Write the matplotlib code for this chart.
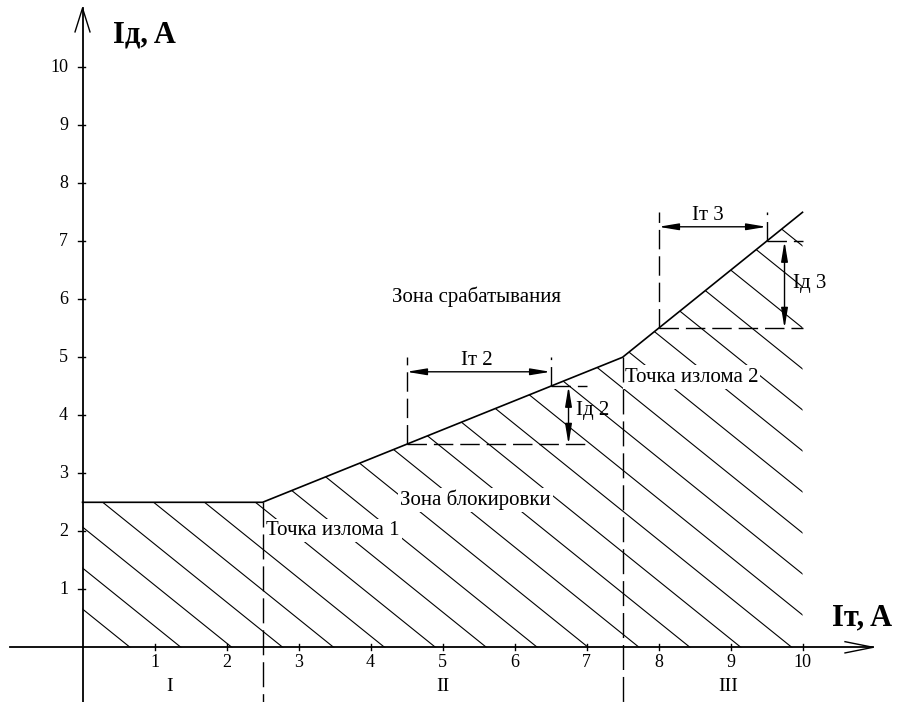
import numpy as np
import matplotlib.pyplot as plt
from matplotlib.patches import Polygon

plt.rcParams['font.family'] = ['Liberation Serif', 'DejaVu Serif']

# Characteristic of the differential protection (break points)
char_x = [0, 2.5, 7.5, 10]
char_y = [2.5, 2.5, 5.0, 7.5]

# Ticks
x_ticks = [1, 2, 3, 4, 5, 6, 7, 8, 9, 10]
y_ticks = [1, 2, 3, 4, 5, 6, 7, 8, 9, 10]

# Region boundaries and names
region_bounds = [2.5, 7.5]
region_names = ['I', 'II', 'III']
region_pos = [1.21, 5.0, 8.97]

# Dimension construction lines (x0, y0, x1, y1)
dim_dashes = [
    (4.5, 3.5, 4.5, 5.0), (6.5, 4.5, 6.5, 5.0),
    (4.5, 3.5, 7.0, 3.5), (6.5, 4.5, 7.0, 4.5),
    (8.0, 5.5, 8.0, 7.5), (9.5, 7.0, 9.5, 7.5),
    (9.5, 7.0, 10.0, 7.0), (8.0, 5.5, 10.0, 5.5),
]
# Dimension arrows (x0, y0, x1, y1)
dim_arrows = [
    (4.5, 4.75, 6.5, 4.75), (6.75, 4.5, 6.75, 3.5),
    (8.0, 7.25, 9.5, 7.25), (9.75, 7.0, 9.75, 5.5),
]
dim_labels = ['Iт 2', 'Iд 2', 'Iт 3', 'Iд 3']
dim_label_pos = [(5.47, 4.94), (7.09, 4.09), (8.69, 7.45), (10.1, 6.28)]

fig = plt.figure(figsize=(8.99, 7.02), dpi=100)
ax = fig.add_axes([0, 0, 1, 1])
ax.set_xlim(-1.146, 11.34)
ax.set_ylim(-0.943, 11.16)
ax.axis('off')

# hatched blocking zone
zone = Polygon([(0, 0)] + list(zip(char_x, char_y)) + [(10, 0)],
               closed=True, facecolor='none', edgecolor='none')
ax.add_patch(zone)
hx = np.array([-1, 12])
for c in 0.66 + 0.707 * np.arange(24):
    ln, = ax.plot(hx, c - hx, color='black', lw=0.8, zorder=1)
    ln.set_clip_path(zone)

# boundary
ax.plot(char_x, char_y, color='black', lw=1.2, zorder=5)

# axes with open arrow heads
ax.plot([-1.007, 10.98], [0, 0], color='black', lw=1.3, zorder=5)
ax.plot([10.59, 10.98, 10.59], [0.097, 0, -0.097], color='black', lw=1, zorder=5)
ax.plot([0, 0], [-0.943, 11.02], color='black', lw=1.3, zorder=5)
ax.plot([-0.104, 0, 0.104], [10.61, 11.02, 10.61], color='black', lw=1, zorder=5)

for t in x_ticks:
    ax.plot([t, t], [-0.045, 0.05], color='black', lw=1, zorder=5)
    ax.text(t, -0.27, str(t), ha='center', va='center', fontsize=13)
for t in y_ticks:
    ax.plot([-0.06, 0.035], [t, t], color='black', lw=1, zorder=5)
    ax.text(-0.2, t, str(t), ha='right', va='center', fontsize=13)

ax.text(0.42, 10.56, 'Iд, A', ha='left', va='center', fontsize=22, fontweight='bold')
ax.text(10.41, 0.505, 'Iт, A', ha='left', va='center', fontsize=22, fontweight='bold')

# region separators
dash = (18, 5)
for xb, yb in zip(region_bounds, [2.5, 5.0]):
    ax.plot([xb, xb], [yb, -0.943], color='black', lw=1, dashes=dash, zorder=4)
for name, xp in zip(region_names, region_pos):
    ax.text(xp, -0.68, name, ha='center', va='center', fontsize=14)

# dimension lines
for x0, y0, x1, y1 in dim_dashes:
    ax.plot([x0, x1], [y0, y1], color='black', lw=1, dashes=(14, 5), zorder=4)
for x0, y0, x1, y1 in dim_arrows:
    ax.annotate('', xy=(x1, y1), xytext=(x0, y0),
                arrowprops=dict(arrowstyle='<|-|>,head_length=1.2,head_width=0.2',
                                color='black', lw=1, shrinkA=0, shrinkB=0),
                zorder=6)
for lab, (lx, ly) in zip(dim_labels, dim_label_pos):
    ax.text(lx, ly, lab, ha='center', va='center', fontsize=15)

box = dict(facecolor='white', edgecolor='none', pad=1.5)
ax.text(5.47, 6.04, 'Зона срабатывания', ha='center', va='center', fontsize=15)
ax.text(5.46, 2.54, 'Зона блокировки', ha='center', va='center', fontsize=15,
        bbox=box, zorder=3)
ax.text(2.55, 2.02, 'Точка излома 1', ha='left', va='center', fontsize=15,
        bbox=box, zorder=3)
ax.text(7.53, 4.66, 'Точка излома 2', ha='left', va='center', fontsize=15,
        bbox=box, zorder=3)

plt.savefig('out.png', dpi=100)
